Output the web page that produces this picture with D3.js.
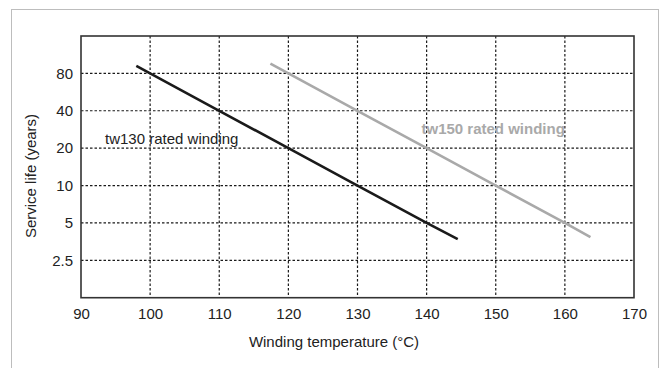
<!DOCTYPE html>
<html><head><meta charset="utf-8">
<script src="https://cdn.jsdelivr.net/npm/d3@7"></script>
<style>
html,body{margin:0;padding:0;background:#fff;}
svg{display:block;font-family:"Liberation Sans",Arial,Helvetica,sans-serif;}
</style></head>
<body>
<svg id="chart" width="662" height="368"></svg>
<script>
// Data
const xTicks = [90, 100, 110, 120, 130, 140, 150, 160, 170];
const yTicks = [2.5, 5, 10, 20, 40, 80];
const yTickLabels = ["2.5", "5", "10", "20", "40", "80"];
const tw130Temp = [98, 110, 120, 130, 140, 144.5];
const tw130Life = [92, 40, 20, 10, 5, 3.7];
const tw150Temp = [117.4, 130, 140, 150, 160, 163.7];
const tw150Life = [96, 40, 20, 10, 5, 3.85];
const seriesNames = ["tw130 rated winding", "tw150 rated winding"];

const svg = d3.select("#chart");
const L = 81, R = 634, T = 36, B = 297.7;
const FS = 15;
const x = d3.scaleLinear().domain([90, 170]).range([L, R]);
const y = d3.scaleLog().base(2).domain([1.25, 160]).range([B, T]);

// outer light border
svg.append("rect").attr("x", 11.5).attr("y", 9.5).attr("width", 647).attr("height", 370)
  .attr("fill", "none").attr("stroke", "#bdbdbd").attr("stroke-width", 1);

// gridlines
const grid = svg.append("g").attr("stroke", "#1a1a1a").attr("stroke-width", 1.2)
  .attr("stroke-dasharray", "2.5,2");
grid.selectAll("line.v").data(xTicks.slice(1, -1)).join("line")
  .attr("x1", d => x(d)).attr("x2", d => x(d)).attr("y1", T).attr("y2", B);
grid.selectAll("line.h").data(yTicks).join("line")
  .attr("x1", L).attr("x2", R).attr("y1", d => y(d)).attr("y2", d => y(d));

// frame
svg.append("rect").attr("x", L).attr("y", T).attr("width", R - L).attr("height", B - T)
  .attr("fill", "none").attr("stroke", "#333").attr("stroke-width", 1.6);

// axes (labels only)
const xAxis = d3.axisBottom(x).tickValues(xTicks).tickSize(0).tickPadding(0).tickFormat(d3.format("d"));
const gx = svg.append("g").attr("transform", `translate(0,${B + 21})`).call(xAxis);
gx.select(".domain").remove();
gx.selectAll("text").attr("font-size", FS).attr("fill", "#222")
  .attr("font-family", "Liberation Sans, Arial, sans-serif").attr("dy", "0");

const yAxis = d3.axisLeft(y).tickValues(yTicks).tickSize(0).tickPadding(0)
  .tickFormat((d, i) => yTickLabels[i]);
const gy = svg.append("g").attr("transform", `translate(${L - 8},0)`).call(yAxis);
gy.select(".domain").remove();
gy.selectAll("text").attr("font-size", FS).attr("fill", "#222")
  .attr("font-family", "Liberation Sans, Arial, sans-serif");

// axis titles
svg.append("text").attr("x", 334).attr("y", 347).attr("text-anchor", "middle")
  .attr("font-size", FS).attr("fill", "#222").text("Winding temperature (°C)");
svg.append("text").attr("transform", `translate(36,176) rotate(-90)`)
  .attr("text-anchor", "middle").attr("font-size", FS).attr("fill", "#222")
  .text("Service life (years)");

// lines
const line = d3.line().x(d => x(d[0])).y(d => y(d[1]));
svg.append("path").datum(tw130Temp.map((t, i) => [t, tw130Life[i]]))
  .attr("d", line).attr("fill", "none").attr("stroke", "#1a1a1a").attr("stroke-width", 2.6);
svg.append("path").datum(tw150Temp.map((t, i) => [t, tw150Life[i]]))
  .attr("d", line).attr("fill", "none").attr("stroke", "#a9a9a9").attr("stroke-width", 2.6);

// series labels
svg.append("text").attr("x", 105).attr("y", 144).attr("font-size", FS).attr("fill", "#222")
  .text(seriesNames[0]);
svg.append("text").attr("x", 421.5).attr("y", 134).attr("font-size", FS).attr("font-weight", "bold")
  .attr("fill", "#a9a9a9").text(seriesNames[1]);
</script>
</body></html>
